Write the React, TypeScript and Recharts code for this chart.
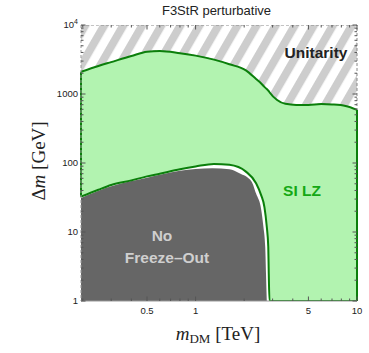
import React from 'react';
import { ComposedChart, Area, XAxis, YAxis, ReferenceLine } from 'recharts';

// boundaries (x in TeV, y in GeV)
const massTeV = [0.195, 0.25, 0.3, 0.4, 0.5, 0.6, 0.8, 1.0, 1.3, 1.62, 2.05, 2.37, 2.55, 2.67, 2.76, 2.82, 2.84, 2.87, 3.2, 3.6, 4.2, 5, 6, 7, 8.5, 10];
const unitarityGeV = [2100, 2550, 2900, 3550, 4100, 4200, 3900, 3600, 3150, 2700, 2200, 1650, 1420, 1270, 1180, 1120, 1100, 1060, 820, 720, 695, 695, 715, 705, 670, 590];
const lzLowerGeV = [32.5, 41, 48, 56, 64, 70, 81, 89, 97, 94, 75, 51, 34, 23, 12, 6.1, 2.5, 1, 1, 1, 1, 1, 1, 1, 1, 1];

const freezeTeV = [0.195, 0.3, 0.5, 0.8, 1.0, 1.27, 1.62, 1.87, 2.22, 2.37, 2.55, 2.63, 2.7, 2.73, 2.76];
const freezeTopGeV = [31, 46, 61, 77, 82, 84, 81, 71, 54, 36, 21, 12, 6.1, 2.5, 1];

const xTicks = [0.2, 0.3, 0.4, 0.5, 0.6, 0.7, 0.8, 0.9, 1, 2, 3, 4, 5, 6, 7, 8, 9, 10];
const xMajor = [0.5, 1, 5, 10];
const yTicks = [1, 2, 3, 4, 5, 6, 7, 8, 9, 10, 20, 30, 40, 50, 60, 70, 80, 90, 100, 200, 300, 400, 500, 600, 700, 800, 900, 1000, 2000, 3000, 4000, 5000, 6000, 7000, 8000, 9000, 10000];
const yMajor = [1, 10, 100, 1000, 10000];

const X_MIN = 0.195;
const X_MAX = 10;
const Y_MIN = 1;
const Y_MAX = 10000;
const PLOT_W = 276;
const PLOT_H = 276;

const GREEN_FILL = '#b2f3b0';
const GREEN_LINE = '#0b7f0b';
const TICK = '#555';

const bandData = massTeV.map((x, i) => ({
  x,
  lz: [lzLowerGeV[i], unitarityGeV[i]],
  unit: [unitarityGeV[i], Y_MAX],
}));
const freezeData = freezeTeV.map((x, i) => ({ x, nf: [Y_MIN, freezeTopGeV[i]] }));

const YTick = (props: any) => {
  const { x, y, payload } = props;
  const v = payload.value;
  const major = yMajor.includes(v);
  const len = major ? 4.5 : 2.5;
  return (
    <g>
      <line x1={x} x2={x + len} y1={y} y2={y} stroke={TICK} />
      <line x1={x + PLOT_W} x2={x + PLOT_W - len} y1={y} y2={y} stroke={TICK} />
      {major && (
        <text x={x - 3} y={y} dy="0.35em" textAnchor="end" fontSize={9.5} fill="#222" fontFamily="Liberation Sans, Arial">
          {v === 10000 ? (
            <>
              <tspan>10</tspan>
              <tspan dy={-4} fontSize={7}>4</tspan>
            </>
          ) : v}
        </text>
      )}
    </g>
  );
};

const XTick = (props: any) => {
  const { x, y, payload } = props;
  const v = payload.value;
  const major = xMajor.includes(v);
  const len = major ? 4.5 : 2.5;
  return (
    <g>
      <line x1={x} x2={x} y1={y} y2={y - len} stroke={TICK} />
      <line x1={x} x2={x} y1={y - PLOT_H} y2={y - PLOT_H + len} stroke={TICK} />
      {major && (
        <text x={x} y={y + 12.5} textAnchor="middle" fontSize={9.5} fill="#222" fontFamily="Liberation Sans, Arial">
          {v}
        </text>
      )}
    </g>
  );
};

const overlay = (left: number, top: number, extra: React.CSSProperties = {}): React.CSSProperties => ({
  position: 'absolute',
  left,
  top,
  transform: 'translate(-50%, -50%)',
  whiteSpace: 'nowrap',
  lineHeight: 1,
  ...extra,
});

const sans = 'Liberation Sans, Arial, sans-serif';
const serif = 'Liberation Serif, Times New Roman, serif';

export default function App() {
  return (
    <div style={{ position: 'absolute', left: 0, top: 0, width: 369, height: 353, background: '#fff' }}>
      <ComposedChart width={369} height={353} margin={{ top: 25, right: 12, bottom: 0, left: 0 }}>
        <defs>
          <pattern id="hatch" patternUnits="userSpaceOnUse" width={16.5} height={16.5} patternTransform="rotate(30)">
            <rect x={0} y={0} width={16.5} height={16.5} fill="#ffffff" />
            <rect x={0} y={0} width={8} height={16.5} fill="#cdcdcd" />
          </pattern>
        </defs>
        <XAxis
          type="number"
          dataKey="x"
          scale="log"
          domain={[X_MIN, X_MAX]}
          allowDataOverflow
          ticks={xTicks}
          interval={0}
          tick={<XTick />}
          tickLine={false}
          tickSize={0}
          tickMargin={0}
          axisLine={{ stroke: '#999' }}
          height={52}
        />
        <YAxis
          type="number"
          scale="log"
          domain={[Y_MIN, Y_MAX]}
          allowDataOverflow
          ticks={yTicks}
          interval={0}
          tick={<YTick />}
          tickLine={false}
          tickSize={0}
          tickMargin={0}
          axisLine={{ stroke: '#999', strokeDasharray: '3 2' }}
          width={81}
        />
        <Area
          data={bandData}
          dataKey="unit"
          type="monotone"
          fill="url(#hatch)"
          fillOpacity={1}
          stroke="#888"
          strokeDasharray="3 2"
          strokeWidth={1}
          isAnimationActive={false}
          dot={false}
          activeDot={false}
        />
        <Area
          data={freezeData}
          dataKey="nf"
          type="monotone"
          fill="#666666"
          fillOpacity={1}
          stroke="none"
          isAnimationActive={false}
          dot={false}
          activeDot={false}
        />
        <Area
          data={bandData}
          dataKey="lz"
          type="monotone"
          fill={GREEN_FILL}
          fillOpacity={1}
          stroke={GREEN_LINE}
          strokeWidth={2}
          isAnimationActive={false}
          dot={false}
          activeDot={false}
        />
        <ReferenceLine x={X_MAX} stroke="#888" strokeDasharray="3 2" />
        <ReferenceLine
          segment={[{ x: massTeV[0], y: lzLowerGeV[0] }, { x: massTeV[0], y: unitarityGeV[0] }]}
          stroke={GREEN_LINE}
          strokeWidth={2}
        />
        <ReferenceLine
          segment={[
            { x: massTeV[massTeV.length - 1], y: lzLowerGeV[lzLowerGeV.length - 1] },
            { x: massTeV[massTeV.length - 1], y: unitarityGeV[unitarityGeV.length - 1] },
          ]}
          stroke={GREEN_LINE}
          strokeWidth={2}
        />
      </ComposedChart>

      <div style={overlay(216.5, 10, { fontFamily: sans, fontSize: 13, color: '#222' })}>F3StR perturbative</div>
      <div style={overlay(316, 53, { fontFamily: sans, fontSize: 15.5, fontWeight: 700, color: '#222' })}>Unitarity</div>
      <div style={overlay(302, 191, { fontFamily: sans, fontSize: 15.5, fontWeight: 700, color: '#14a814' })}>SI LZ</div>
      <div style={overlay(162, 236, { fontFamily: sans, fontSize: 15.5, fontWeight: 700, color: '#cfcfcf' })}>No</div>
      <div style={overlay(167, 258, { fontFamily: sans, fontSize: 15.5, fontWeight: 700, color: '#cfcfcf' })}>Freeze–Out</div>
      <div style={overlay(218, 333, { fontFamily: serif, fontSize: 19, color: '#222' })}>
        <i>m</i>
        <span style={{ fontSize: 13, position: 'relative', top: 3 }}>DM</span> [TeV]
      </div>
      <div style={overlay(38, 161, { fontFamily: serif, fontSize: 19, color: '#222', transform: 'translate(-50%, -50%) rotate(-90deg)' })}>
        Δ<i>m</i> [GeV]
      </div>
    </div>
  );
}
